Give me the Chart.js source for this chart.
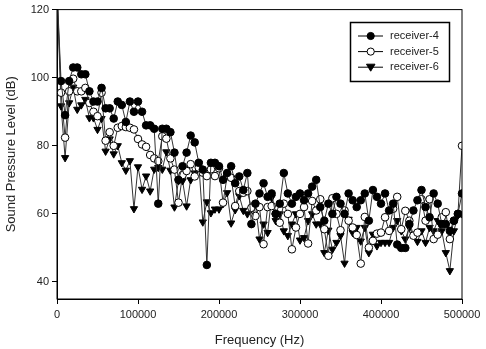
<!DOCTYPE html>
<html>
<head>
<meta charset="utf-8">
<script src="https://cdn.jsdelivr.net/npm/chart.js@4/dist/chart.umd.min.js"></script>
<style>
  html, body { margin: 0; padding: 0; background: #fff; }
  #wrap { width: 486px; height: 349px; position: relative; }
</style>
</head>
<body>
<div id="wrap"><canvas id="spl"></canvas></div>
<script>
// frequency grid, 5 kHz steps from 0 to 500 kHz
var freqStep = 5000;
var freqs = Array.from({ length: 101 }, function (_, i) { return i * freqStep; });

var receiver4 = [126, 99, 89, 99, 103, 103, 101, 101, 96, 93,
  93, 97, 91, 91, 88, 93, 92, 87, 93, 90,
  93, 90, 86, 86, 85, 63, 85, 85, 84, 78,
  70, 74, 78, 83, 81, 75, 73, 45, 75, 75,
  74, 70, 72, 74, 69, 71, 67, 72, 57, 63,
  66, 69, 65, 66, 60, 63, 72, 66, 63, 65,
  66, 64, 66, 68, 70, 62, 58, 63, 60, 65,
  63, 60, 66, 64, 62, 64, 66, 58, 67, 65,
  63, 66, 61, 63, 51, 50, 50, 57, 61, 64,
  67, 62, 59, 66, 63, 57, 57, 55, 58, 60, 66];

var receiver5 = [126, 95.6, 82.4, 96, 99.7, 96, 96, 97, 92.6, 90,
  88.7, 95.6, 81.5, 84, 80, 85.3, 85.8, 85.5, 85.3, 84.8,
  82, 80.4, 79.7, 77.3, 76.3, 75.5, 82.8, 82.1, 76.3, 73,
  63.3, 71.4, 72.6, 74.6, 71, 73.6, 72.1, 71.1, 73.1, 71.1,
  73.4, 63.3, 71.1, 70.6, 62.3, 66.7, 66.2, 66.7, 61.8, 59.4,
  62, 51.1, 62, 62.3, 60, 57.4, 63, 60, 49.6, 56,
  60, 62, 51.3, 63.8, 61, 64.3, 55.5, 47.7, 64.6, 60,
  55.2, 61, 58, 56, 53.8, 45.4, 59.1, 50.1, 52.1, 54.2,
  54.5, 59, 55, 61.5, 65, 55.5, 60.9, 58, 53.6, 54.5,
  64.3, 58, 64.3, 52.6, 53.9, 59, 60.5, 52.6, 58, 60, 80];

var receiver6 = [126, 91.7, 76.5, 92.6, 97.2, 90.7, 92, 93.6, 88.2, 88.2,
  84.8, 88, 78.4, 82, 77.6, 80, 75, 72.8, 75.6, 61.5,
  73.8, 67.2, 71.1, 66.7, 73.1, 73.6, 73.1, 78.2, 72.8, 62,
  69.7, 69.7, 62.3, 70, 72, 74.8, 57.6, 63.5, 60.3, 61.4,
  61.4, 63, 66.2, 57.3, 61.2, 65.3, 61, 60, 61.4, 62.8,
  52.6, 57, 54.5, 64.8, 58, 60, 55, 53.6, 57, 60,
  52.3, 53, 58, 60, 57, 57, 48.6, 55.2, 49.6, 51.6,
  53.6, 45.5, 58.4, 54.5, 56, 52, 56, 48.6, 54, 50.6,
  51.6, 51.6, 51.6, 56, 58, 55, 52.6, 56, 54, 51.9,
  55, 51.6, 56, 55, 58, 55, 48.6, 43.3, 55, 59.6, 60];

var seriesLabels = ["receiver-4", "receiver-5", "receiver-6"];
var xTicks = [0, 100000, 200000, 300000, 400000, 500000];
var yTicks = [40, 60, 80, 100, 120];

function pts(vals) {
  return vals.map(function (v, i) { return { x: freqs[i], y: v }; });
}

var lineColor = "#333";
var FONT = "'Liberation Sans', Arial, sans-serif";

function makeSet(label, vals, fill, style, rot, r) {
  return {
    label: label,
    data: pts(vals),
    borderColor: lineColor,
    borderWidth: 1,
    pointBackgroundColor: fill,
    pointBorderColor: "#000",
    pointBorderWidth: 1,
    pointStyle: style,
    rotation: rot,
    pointRadius: r,
    fill: false,
    tension: 0
  };
}

// frame around the plot + legend box inside the plot
var framePlugin = {
  id: 'frame',
  afterDraw: function (chart) {
    var c = chart.ctx, a = chart.chartArea;
    c.save();
    c.strokeStyle = "#000";
    c.lineWidth = 1;
    c.strokeRect(a.left, a.top, a.right - a.left, a.bottom - a.top);

    // legend
    var bx = 350.5, by = 22.5, bw = 99, bh = 59;
    c.fillStyle = "#fff";
    c.fillRect(bx, by, bw, bh);
    c.lineWidth = 1.5;
    c.strokeRect(bx, by, bw, bh);
    c.font = "11px " + FONT;
    c.textBaseline = "middle";
    chart.data.datasets.forEach(function (ds, i) {
      var y = 36 + i * 15.6;
      c.strokeStyle = "#000";
      c.lineWidth = 1;
      c.beginPath();
      c.moveTo(358, y);
      c.lineTo(383, y);
      c.stroke();
      c.fillStyle = ds.pointBackgroundColor;
      c.beginPath();
      if (ds.pointStyle === 'triangle') {
        c.moveTo(366.5, y - 3);
        c.lineTo(375, y - 3);
        c.lineTo(370.7, y + 4);
        c.closePath();
      } else {
        c.arc(370.7, y, 3.6, 0, Math.PI * 2);
      }
      c.fill();
      c.stroke();
      c.fillStyle = "#222";
      c.fillText(ds.label, 390, y);
    });
    c.restore();
  }
};

var ctx = document.getElementById('spl').getContext("2d");

var myChart = new Chart(ctx, {
  type: 'line',
  data: {
    datasets: [
      makeSet(seriesLabels[0], receiver4, "#000", 'circle', 0, 3.8),
      makeSet(seriesLabels[1], receiver5, "#fff", 'circle', 0, 3.8),
      makeSet(seriesLabels[2], receiver6, "#000", 'triangle', 180, 4.2)
    ]
  },
  options: {
    responsive: true,
    maintainAspectRatio: false,
    animation: false,
    layout: {
      padding: { top: 8, right: 24, left: 0, bottom: 0 }
    },
    plugins: {
      legend: { display: false },
      tooltip: { enabled: false }
    },
    scales: {
      x: {
        type: 'linear',
        min: 0,
        max: 500000,
        afterBuildTicks: function (scale) {
          scale.ticks = xTicks.map(function (v) { return { value: v }; });
        },
        afterFit: function (scale) { scale.height = 50; },
        grid: {
          drawOnChartArea: false,
          drawTicks: true,
          tickLength: 5,
          color: "#000"
        },
        border: { color: "#000", width: 1 },
        ticks: {
          maxRotation: 0,
          padding: 4,
          color: "#222",
          font: { family: FONT, size: 11 },
          callback: function (v) { return String(v); }
        },
        title: {
          display: true,
          text: "Frequency (Hz)",
          color: "#222",
          font: { family: FONT, size: 13 },
          padding: { top: 0, bottom: 1 }
        }
      },
      y: {
        min: 35,
        max: 120,
        afterBuildTicks: function (scale) {
          scale.ticks = yTicks.map(function (v) { return { value: v }; });
        },
        afterFit: function (scale) { scale.width = 57; },
        grid: {
          drawOnChartArea: false,
          drawTicks: true,
          tickLength: 5,
          color: "#000"
        },
        border: { color: "#000", width: 1 },
        ticks: {
          padding: 3,
          color: "#222",
          font: { family: FONT, size: 11 }
        },
        title: {
          display: true,
          text: "Sound Pressure Level (dB)",
          color: "#222",
          font: { family: FONT, size: 13 },
          padding: { top: 4, bottom: 0 }
        }
      }
    }
  },
  plugins: [framePlugin]
});
</script>
</body>
</html>
